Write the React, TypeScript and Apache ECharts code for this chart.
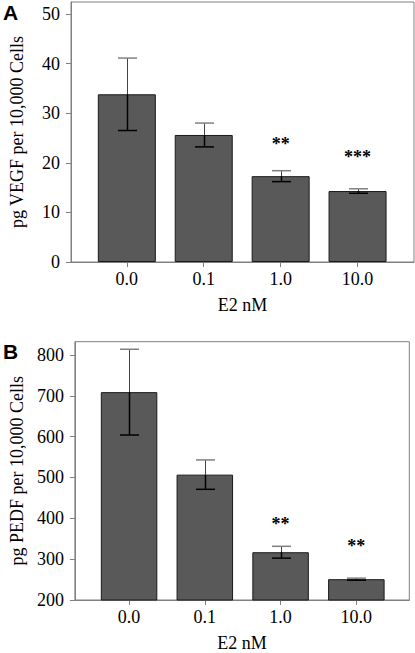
import React, { useEffect, useRef } from "react";
import * as echarts from "echarts";

const categories = ["0.0", "0.1", "1.0", "10.0"];
const xPositions = [0, 1, 2, 3];

const vegfMean = [33.8, 25.6, 17.3, 14.3];
const vegfErr = [7.3, 2.4, 1.1, 0.45];
const vegfStars = ["", "", "**", "***"];
const vegfStarY = [0, 0, 24.5, 22.0];
const vegfTicks = [0, 10, 20, 30, 40, 50];

const pedfMean = [709, 507, 317, 251];
const pedfErr = [105, 36, 14.5, 2.5];
const pedfStars = ["", "", "**", "**"];
const pedfStarY = [0, 0, 397, 342];
const pedfTicks = [200, 300, 400, 500, 600, 700, 800];

const SERIF = "Liberation Serif";
const AXIS_GRAY = "#808080";

function errorRender(params: any, api: any) {
  const x = api.value(0);
  const m = api.value(1);
  const lo = api.value(2);
  const hi = api.value(3);
  const pM = api.coord([x, m]);
  const pLo = api.coord([x, lo]);
  const pHi = api.coord([x, hi]);
  const hw = 9.5;
  const cx = Math.round(pM[0]) + 0.5;
  return {
    type: "group",
    children: [
      { type: "line", shape: { x1: cx, y1: pHi[1], x2: cx, y2: pM[1] }, style: { stroke: "#444", lineWidth: 1 } },
      { type: "line", shape: { x1: cx - hw, y1: pHi[1], x2: cx + hw, y2: pHi[1] }, style: { stroke: "#808080", lineWidth: 1.5 } },
      { type: "line", shape: { x1: cx, y1: pM[1], x2: cx, y2: pLo[1] }, style: { stroke: "#000", lineWidth: 1.5 } },
      { type: "line", shape: { x1: cx - hw, y1: pLo[1], x2: cx + hw, y2: pLo[1] }, style: { stroke: "#000", lineWidth: 1.5 } },
    ],
  };
}

function starRender(params: any, api: any) {
  const p = api.coord([api.value(0), api.value(1)]);
  return {
    type: "text",
    x: p[0],
    y: p[1] + 4,
    style: {
      text: String(api.value(2)),
      fill: "#000",
      fontSize: 18,
      fontWeight: "bold",
      fontFamily: SERIF,
      align: "center",
      verticalAlign: "middle",
    },
  };
}

const labelStyle = {
  fontSize: 18,
  fontFamily: SERIF,
  fontWeight: "normal",
  color: "#000",
};

function makeAxes(gridIndex: number, min: number, max: number, ticks: number[], interval: number, xmin: number, xmax: number, yName: string) {
  const xAxis = {
    gridIndex,
    type: "value",
    min: xmin,
    max: xmax,
    axisLine: { show: true, onZero: false, lineStyle: { color: AXIS_GRAY, width: 1 } },
    axisTick: { show: true, customValues: xPositions, length: 5, lineStyle: { color: AXIS_GRAY } },
    axisLabel: {
      show: true,
      customValues: xPositions,
      formatter: (v: number) => categories[Math.round(v)] ?? "",
      margin: 8,
      ...labelStyle,
    },
    splitLine: { show: false },
    name: "E2 nM",
    nameLocation: "middle",
    nameGap: 34,
    nameTextStyle: { ...labelStyle },
  };
  const yAxis = {
    gridIndex,
    type: "value",
    min,
    max,
    interval,
    axisLine: { show: true, onZero: false, lineStyle: { color: AXIS_GRAY, width: 1 } },
    axisTick: { show: true, customValues: ticks, length: 5, lineStyle: { color: AXIS_GRAY } },
    axisLabel: {
      show: true,
      showMaxLabel: false,
      margin: 11,
      ...labelStyle,
    },
    splitLine: { show: false },
    name: yName,
    nameLocation: "middle",
    nameGap: 45,
    nameTextStyle: { ...labelStyle },
  };
  return { xAxis, yAxis };
}

function makeSeries(idx: number, mean: number[], err: number[], stars: string[], starY: number[], barWidth: number) {
  return [
    {
      type: "bar",
      xAxisIndex: idx,
      yAxisIndex: idx,
      barWidth,
      data: mean.map((v, i) => [xPositions[i], v]),
      itemStyle: { color: "#595959", borderColor: "#1a1a1a", borderWidth: 1 },
      z: 2,
    },
    {
      type: "custom",
      xAxisIndex: idx,
      yAxisIndex: idx,
      renderItem: errorRender,
      encode: { x: 0, y: [1, 2, 3] },
      data: mean.map((v, i) => [xPositions[i], v, v - err[i], v + err[i]]),
      z: 3,
    },
    {
      type: "custom",
      xAxisIndex: idx,
      yAxisIndex: idx,
      renderItem: starRender,
      dimensions: ["x", "y", { name: "t", type: "ordinal" }],
      encode: { x: 0, y: 1 },
      data: stars
        .map((s, i) => ({ s, i }))
        .filter((o) => o.s !== "")
        .map((o) => [xPositions[o.i], starY[o.i], o.s]),
      z: 4,
    },
  ];
}

export default function App() {
  const ref = useRef<HTMLDivElement>(null);
  useEffect(() => {
    if (!ref.current) return;
    const chart = echarts.init(ref.current, null, { renderer: "svg" });
    const a = makeAxes(0, 0, 52.4, vegfTicks, 10, -0.726, 3.734, "pg VEGF per 10,000 Cells");
    const b = makeAxes(1, 200, 832.5, pedfTicks, 100, -0.715, 3.699, "pg PEDF per 10,000 Cells");
    chart.setOption({
      animation: false,
      backgroundColor: "#fff",
      textStyle: { fontFamily: SERIF },
      grid: [
        { left: 68, top: 2, width: 346, height: 260, show: true, borderColor: AXIS_GRAY, borderWidth: 1, containLabel: false },
        { left: 68, top: 341.7, width: 341.3, height: 260.6, show: true, borderColor: AXIS_GRAY, borderWidth: 1, containLabel: false },
      ],
      xAxis: [a.xAxis, b.xAxis],
      yAxis: [a.yAxis, b.yAxis],
      series: [
        ...makeSeries(0, vegfMean, vegfErr, vegfStars, vegfStarY, 58),
        ...makeSeries(1, pedfMean, pedfErr, pedfStars, pedfStarY, 56.5),
      ],
      graphic: [
        { type: "text", left: 3, top: 2, style: { text: "A", fontSize: 21, fontWeight: "bold", fontFamily: "Liberation Sans", fill: "#000" } },
        { type: "text", left: 3, top: 341, style: { text: "B", fontSize: 21, fontWeight: "bold", fontFamily: "Liberation Sans", fill: "#000" } },
      ],
    } as any);
    return () => chart.dispose();
  }, []);
  return <div ref={ref} style={{ position: "absolute", left: 0, top: 0, width: 415, height: 653 }} />;
}
